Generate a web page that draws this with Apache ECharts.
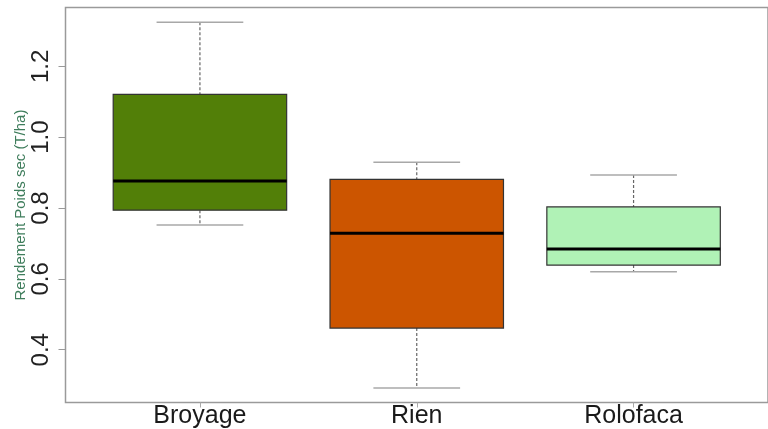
<!DOCTYPE html>
<html>
<head>
<meta charset="utf-8">
<script src="https://cdn.jsdelivr.net/npm/echarts@6/dist/echarts.min.js"></script>
<style>
html,body{margin:0;padding:0;background:#fff;}
#chart{width:768px;height:429px;}
</style>
</head>
<body>
<div id="chart"></div>
<script>
var categories = ['Broyage', 'Rien', 'Rolofaca'];
var whiskerMin = [0.752, 0.292, 0.620];
var q1Values = [0.794, 0.461, 0.639];
var medianValues = [0.876, 0.729, 0.684];
var q3Values = [1.121, 0.881, 0.803];
var whiskerMax = [1.3245, 0.929, 0.893];
var yTicks = [0.4, 0.6, 0.8, 1.0, 1.2];
var boxColors = ['#527f08', '#cc5500', '#b0f2b6'];

var data = categories.map(function (c, i) {
  return [i + 1, whiskerMin[i], q1Values[i], medianValues[i], q3Values[i], whiskerMax[i]];
});

var chart = echarts.init(document.getElementById('chart'));
chart.setOption({
  backgroundColor: '#fff',
  animation: false,
  grid: {
    left: 65.5, top: 7.5, width: 703, height: 395,
    show: true, borderColor: '#9a9a9a', borderWidth: 1.5, backgroundColor: 'transparent'
  },
  xAxis: {
    type: 'value', min: 0.38, max: 3.62,
    axisLine: { show: false },
    splitLine: { show: false },
    axisTick: { show: true, length: 5, lineStyle: { color: '#aaa', width: 1 }, customValues: [1, 2, 3] },
    axisLabel: {
      customValues: [1, 2, 3],
      formatter: function (v) { return categories[Math.round(v) - 1]; },
      fontFamily: 'Liberation Sans, Arial, sans-serif', fontSize: 25, color: '#1a1a1a', margin: 1
    }
  },
  yAxis: {
    type: 'value', min: 0.251, max: 1.366,
    name: 'Rendement Poids sec (T/ha)',
    nameLocation: 'middle', nameGap: 37, nameRotate: 90, nameMoveOverlap: false,
    nameTextStyle: { fontFamily: 'Liberation Sans, Arial, sans-serif', fontSize: 15, color: '#3f7d5c' },
    axisLine: { show: false },
    splitLine: { show: false },
    axisTick: { show: true, length: 7, lineStyle: { color: '#999', width: 1 }, customValues: yTicks },
    axisLabel: {
      customValues: yTicks,
      rotate: 90,
      formatter: function (v) { return v.toFixed(1); },
      fontFamily: 'Liberation Sans, Arial, sans-serif', fontSize: 24, color: '#222', margin: 12
    }
  },
  series: [{
    type: 'custom',
    data: data,
    renderItem: function (params, api) {
      var x = api.value(0);
      var mn = api.value(1), q1 = api.value(2), md = api.value(3), q3 = api.value(4), mx = api.value(5);
      var idx = params.dataIndex;
      var pMax = api.coord([x, mx]);
      var pQ3 = api.coord([x, q3]);
      var pQ1 = api.coord([x, q1]);
      var pMin = api.coord([x, mn]);
      var pMed = api.coord([x, md]);
      var bl = api.coord([x - 0.4, q3]);
      var br = api.coord([x + 0.4, q1]);
      var cl = api.coord([x - 0.2, mx])[0];
      var cr = api.coord([x + 0.2, mx])[0];
      var dash = { stroke: '#666', lineWidth: 1.2, lineDash: [3, 2] };
      var cap = { stroke: '#a8a8a8', lineWidth: 1.5 };
      return {
        type: 'group',
        children: [
          { type: 'line', shape: { x1: pMax[0], y1: pMax[1], x2: pQ3[0], y2: pQ3[1] }, style: dash },
          { type: 'line', shape: { x1: pQ1[0], y1: pQ1[1], x2: pMin[0], y2: pMin[1] }, style: dash },
          { type: 'line', shape: { x1: cl, y1: pMax[1], x2: cr, y2: pMax[1] }, style: cap },
          { type: 'line', shape: { x1: cl, y1: pMin[1], x2: cr, y2: pMin[1] }, style: cap },
          { type: 'rect', shape: { x: bl[0], y: bl[1], width: br[0] - bl[0], height: br[1] - bl[1] },
            style: { fill: boxColors[idx], stroke: '#333', lineWidth: 1.2 } },
          { type: 'line', shape: { x1: bl[0], y1: pMed[1], x2: br[0], y2: pMed[1] },
            style: { stroke: '#000', lineWidth: 3 } }
        ]
      };
    }
  }]
});
</script>
</body>
</html>
